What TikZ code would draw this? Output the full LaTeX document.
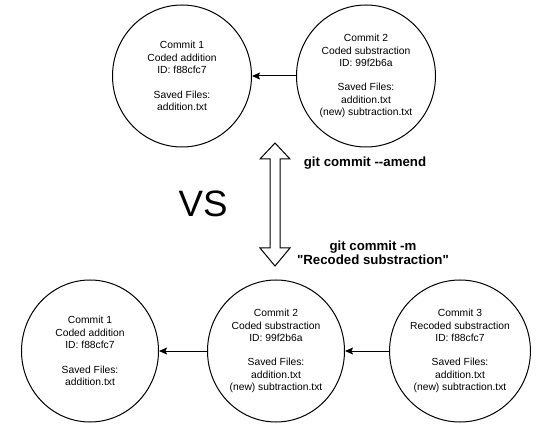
\documentclass[tikz,border=0pt]{standalone}
\usepackage{fontspec}
\setmainfont{Liberation Sans}
\usetikzlibrary{shapes.geometric,arrows.meta}
\tikzset{
  commit/.style={draw=black, line width=1pt, ellipse, inner sep=0pt,
    minimum width=139pt, minimum height=142pt, align=center,
    font=\fontsize{10.3}{12.3}\selectfont},
  link/.style={draw=black, line width=1pt, -{Stealth[length=8pt,width=7pt,inset=1.5pt]}},
  cmd/.style={align=center, inner sep=0pt, font=\bfseries\fontsize{13.25}{14.5}\selectfont},
}
\begin{document}
\begin{tikzpicture}[x=1pt,y=-1pt]
\useasboundingbox (0,0) rectangle (551,435);
% top row
\node[commit] (t1) at (182,76) {Commit 1\\Coded addition\\ID: f88cfc7\\[12.3pt]Saved Files:\\addition.txt};
\node[commit] (t2) at (366,76) {Commit 2\\Coded substraction\\ID: 99f2b6a\\[12.3pt]Saved Files:\\addition.txt\\(new) subtraction.txt};
\draw[link] (t2) -- (t1);
% bottom row
\node[commit, minimum width=137pt] (b1) at (90,351) {Commit 1\\Coded addition\\ID: f88cfc7\\[12.3pt]Saved Files:\\addition.txt};
\node[commit, minimum width=137pt] (b2) at (276,351) {Commit 2\\Coded substraction\\ID: 99f2b6a\\[12.3pt]Saved Files:\\addition.txt\\(new) subtraction.txt};
\node[commit, minimum width=137pt] (b3) at (460,351) {Commit 3\\Recoded substraction\\ID: f88cfc7\\[12.3pt]Saved Files:\\addition.txt\\(new) subtraction.txt};
\draw[link] (b2) -- (b1);
\draw[link] (b3) -- (b2);
% double arrow
\draw[line width=1pt, line join=miter, fill=white]
  (275,143) -- (290,159) -- (280,159) -- (280,248) -- (290,248) -- (275,266)
  -- (260,248) -- (270,248) -- (270,159) -- (260,159) -- cycle;
% labels
\node[cmd] (amend) at (365,163.5) {git commit -{}-amend};
\node[cmd] (mcmd) at (373,253) {git commit -m\\\textquotedbl Recoded substraction\textquotedbl};
\node[inner sep=0pt, font=\fontsize{36.7}{40}\selectfont] (vs) at (203,204) {VS};
\end{tikzpicture}
\end{document}
